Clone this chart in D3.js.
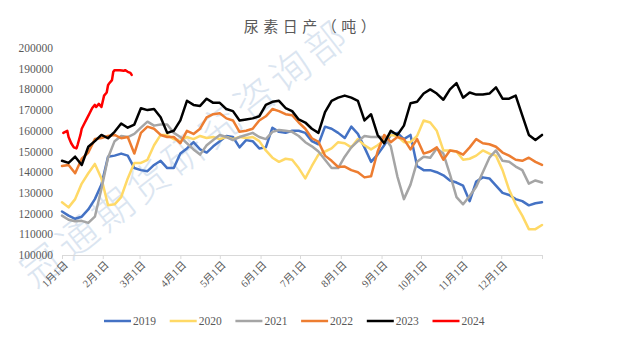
<!DOCTYPE html>
<html><head><meta charset="utf-8">
<script src="https://cdn.jsdelivr.net/npm/d3@7"></script>
<style>body{margin:0;background:#fff;overflow:hidden}</style>
</head><body><svg id="c" width="617" height="340"></svg>
<script>
const title = "尿素日产（吨）";
const watermark = "冠通期货研究咨询部";
const monthLabels = ["1月1日","2月1日","3月1日","4月1日","5月1日","6月1日","7月1日","8月1日","9月1日","10月1日","11月1日","12月1日"];
const monthStartDays = [0,31,59,90,120,151,181,212,243,273,304,334];
const yTicks = [100000,110000,120000,130000,140000,150000,160000,170000,180000,190000,200000];
const seriesNames = ["2019","2020","2021","2022","2023","2024"];
const seriesColors = ["#4472C4","#FFD966","#A5A5A5","#ED7D31","#000000","#FF0000"];

const days = [0,5,10,15,20,25,30,35,40,45,50,55,60,65,70,75,80,85,90,95,100,105,110,115,120,125,130,135,140,145,150,155,160,165,170,175,180,185,190,195,200,205,210,215,220,225,230,235,240,245,250,255,260,265,270,275,280,285,290,295,300,305,310,315,320,325,330,335,340,345,350,355,360,365];

const s2019 = [121000,119000,117500,118500,122000,127000,134000,147500,148000,149000,148000,142000,141000,140500,143500,145500,142000,142000,149000,151500,154500,151000,149500,152500,155000,157500,157000,152000,155500,155000,151500,152000,161500,159500,159000,160000,160000,159000,155000,153500,162000,161000,159000,156500,162000,158500,152000,145000,148500,153000,158000,159000,156000,158000,143000,141000,141000,140000,138500,136000,135000,133500,126000,135500,137500,137000,133500,130000,129000,127000,126000,124000,125000,125500];

const s2020 = [125500,123000,127000,134500,139500,144000,137000,124000,124500,128000,137000,144500,144500,146000,153000,158000,158000,156000,155000,157000,156000,157500,156500,157000,156000,157000,156000,157000,156500,157000,155000,150500,147000,145000,146500,146000,142000,137000,143000,148500,150000,151500,154500,154000,152000,156000,153000,151000,153000,155500,158000,157500,154500,154500,157500,165000,164000,160000,150500,150500,150000,146000,146500,148000,150500,149000,148000,141000,131500,124500,119000,112500,112500,114500];

const s2021 = [119000,117000,116300,116500,115500,118500,132000,147000,155000,157500,157000,158500,161500,164400,162500,163000,163000,159000,157000,154000,151000,148500,153000,155600,158000,157000,155500,157000,158000,159000,157000,156000,159500,160400,160000,159500,157500,154500,152500,150000,146000,142000,142000,147500,152000,155000,157500,157000,157000,157000,152500,138000,127000,134000,145000,147500,147000,151500,149000,139000,128000,124500,128500,133000,140000,147000,150500,145500,145000,142700,141000,134500,136000,135000];

const s2022 = [143000,143500,139500,146500,149500,156000,156500,157500,158000,156400,157000,149000,159000,162000,161000,158000,157000,157000,154000,160000,158500,161000,166500,168000,168500,166000,165000,159500,160000,161000,165000,167000,170500,169500,168000,167500,164000,161000,156400,154700,148000,145500,142500,142700,141000,140000,137500,138000,150000,158000,154500,157000,156000,151000,156000,149000,150000,152000,146000,150500,150000,148500,152000,156000,154000,153500,152300,149500,148000,146000,145500,147000,145000,143500];

const s2023 = [145500,144500,147500,143500,152300,155000,158000,156400,159500,163500,161500,163000,170900,170000,170500,166500,159000,160000,165000,174500,172500,172000,175500,173500,173500,170500,169500,165000,165500,166000,167000,172500,174000,174500,171000,169500,165500,164000,161000,159000,169000,174500,176000,177000,176000,174500,165000,168000,158000,154000,160000,158000,162500,173300,174000,178000,180000,178000,175000,180000,183000,176000,178500,177500,177500,178000,181000,175500,175500,177000,167500,158000,155600,158000];

const days2024 = [1,4,5,7,9,11,12,14,15,17,19,21,23,25,26,28,30,32,34,35,36,38,39,40,44,47,48,50,52,53];
const s2024 = [159000,160000,157000,154000,152000,151500,153500,158000,161000,163500,166000,168500,171000,172500,171500,173000,171500,177000,178500,182000,183000,184500,188500,189300,189300,189000,189300,188500,188000,187000];

const svg = d3.select("#c");
const x = d3.scaleLinear().domain([0,365]).range([62,542]);
const y = d3.scaleLinear().domain([100000,200000]).range([255,48]);
const txt = "#595959";

// watermark
svg.append("text")
  .attr("transform","translate(186,153) rotate(-38)")
  .attr("text-anchor","middle").attr("dy","0.35em")
  .attr("font-family","Noto Sans CJK SC").attr("font-weight",300)
  .attr("font-size",40).attr("letter-spacing",5)
  .attr("fill","#c9d8ea").attr("opacity",0.65)
  .text(watermark);

// title
svg.append("text").attr("x",312).attr("y",32).attr("text-anchor","middle")
  .attr("font-family","Noto Sans CJK SC").attr("font-size",15).attr("letter-spacing",4.5)
  .attr("fill",txt).text(title);

// y labels
svg.append("g").selectAll("text").data(yTicks).join("text")
  .attr("x",53).attr("y",d=>y(d)).attr("dy","0.35em").attr("text-anchor","end")
  .attr("font-family","Liberation Serif").attr("font-size",11.5).attr("fill",txt)
  .text(d=>d);

// x axis
const xAxis = d3.axisBottom(x).tickValues(monthStartDays.concat([365])).tickSize(4).tickFormat("");
const ga = svg.append("g").attr("transform","translate(0,255)").call(xAxis);
ga.select(".domain").attr("stroke","#d9d9d9");
ga.selectAll(".tick line").attr("stroke","#d9d9d9");

svg.append("g").selectAll("text").data(monthStartDays).join("text")
  .attr("transform",(d)=>`translate(${x(d)+4},263) rotate(-45)`)
  .attr("text-anchor","end").attr("dy","0.35em")
  .attr("font-family","Liberation Serif, Noto Sans CJK SC").attr("font-size",10.5).attr("fill",txt)
  .text((d,i)=>monthLabels[i]);

// lines
const line = d3.line().x(d=>x(d[0])).y(d=>y(d[1]));
const allSeries = [s2019,s2020,s2021,s2022,s2023].map(s=>days.map((d,i)=>[d,s[i]]));
allSeries.push(days2024.map((d,i)=>[d,s2024[i]]));
svg.append("g").selectAll("path").data(allSeries).join("path")
  .attr("d",line).attr("fill","none")
  .attr("stroke",(d,i)=>seriesColors[i]).attr("stroke-width",2.5)
  .attr("stroke-linejoin","round").attr("stroke-linecap","round");

// legend
const lg = svg.append("g").selectAll("g").data(seriesNames).join("g")
  .attr("transform",(d,i)=>`translate(${104+i*65.7},321)`);
lg.append("line").attr("x1",0).attr("x2",27).attr("stroke",(d,i)=>seriesColors[i]).attr("stroke-width",2.5);
lg.append("text").attr("x",29).attr("dy","0.35em")
  .attr("font-family","Liberation Serif").attr("font-size",11.5).attr("fill",txt).text(d=>d);
</script></body></html>
